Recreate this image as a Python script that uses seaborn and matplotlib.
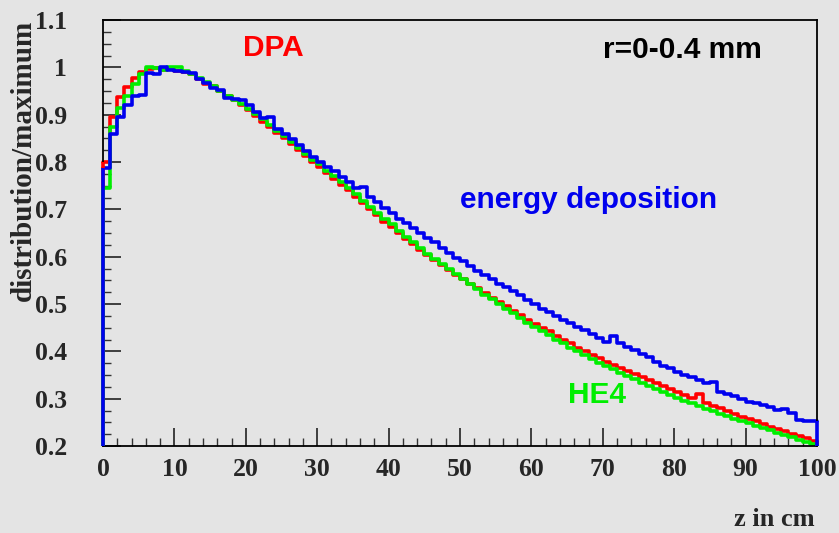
import numpy as np
import pandas as pd
import matplotlib
matplotlib.use("Agg")
import matplotlib.pyplot as plt
from matplotlib.ticker import MultipleLocator
import seaborn as sns

# bin edges: z in cm (1 cm bins, 0..100)
z_edges = list(range(0, 101))

dpa = [0.800, 0.895, 0.937, 0.958, 0.978, 0.990, 0.997, 0.998, 0.995, 0.998,
       0.993, 0.990, 0.985, 0.975, 0.965, 0.960, 0.950, 0.940, 0.930, 0.920,
       0.910, 0.898, 0.885, 0.873, 0.862, 0.850, 0.838, 0.825, 0.812, 0.800,
       0.790, 0.777, 0.765, 0.752, 0.740, 0.726, 0.713, 0.700, 0.687, 0.674,
       0.662, 0.650, 0.638, 0.627, 0.615, 0.604, 0.593, 0.582, 0.571, 0.562,
       0.553, 0.543, 0.533, 0.523, 0.513, 0.504, 0.495, 0.485, 0.476, 0.467,
       0.458, 0.450, 0.442, 0.433, 0.425, 0.417, 0.408, 0.400, 0.392, 0.385,
       0.378, 0.372, 0.365, 0.358, 0.352, 0.345, 0.339, 0.333, 0.326, 0.320,
       0.314, 0.308, 0.302, 0.310, 0.290, 0.285, 0.280, 0.274, 0.268, 0.262,
       0.257, 0.252, 0.247, 0.241, 0.236, 0.231, 0.226, 0.221, 0.216, 0.211]

he4 = [0.745, 0.875, 0.915, 0.940, 0.965, 0.985, 1.000, 0.998, 0.995, 1.000,
       1.000, 0.993, 0.985, 0.978, 0.968, 0.960, 0.950, 0.940, 0.932, 0.923,
       0.913, 0.902, 0.890, 0.878, 0.866, 0.854, 0.842, 0.830, 0.817, 0.805,
       0.795, 0.782, 0.770, 0.757, 0.745, 0.732, 0.718, 0.705, 0.692, 0.680,
       0.668, 0.655, 0.642, 0.630, 0.618, 0.606, 0.595, 0.584, 0.573, 0.563,
       0.553, 0.542, 0.531, 0.520, 0.510, 0.500, 0.490, 0.480, 0.470, 0.460,
       0.452, 0.443, 0.434, 0.425, 0.417, 0.408, 0.400, 0.392, 0.384, 0.376,
       0.369, 0.362, 0.355, 0.348, 0.341, 0.334, 0.327, 0.321, 0.315, 0.308,
       0.302, 0.296, 0.290, 0.284, 0.279, 0.274, 0.268, 0.263, 0.258, 0.253,
       0.248, 0.243, 0.238, 0.233, 0.228, 0.223, 0.218, 0.213, 0.208, 0.204]

edep = [0.787, 0.860, 0.896, 0.920, 0.940, 0.942, 0.987, 0.985, 1.000, 0.995,
        0.993, 0.990, 0.988, 0.975, 0.966, 0.957, 0.953, 0.935, 0.933, 0.930,
        0.920, 0.905, 0.893, 0.895, 0.870, 0.860, 0.848, 0.835, 0.823, 0.810,
        0.800, 0.790, 0.780, 0.768, 0.757, 0.745, 0.748, 0.725, 0.715, 0.703,
        0.692, 0.680, 0.672, 0.660, 0.650, 0.640, 0.630, 0.618, 0.608, 0.598,
        0.590, 0.580, 0.570, 0.562, 0.552, 0.543, 0.535, 0.527, 0.518, 0.508,
        0.500, 0.490, 0.483, 0.475, 0.466, 0.460, 0.452, 0.445, 0.437, 0.428,
        0.420, 0.433, 0.418, 0.410, 0.403, 0.395, 0.387, 0.378, 0.370, 0.365,
        0.357, 0.350, 0.346, 0.340, 0.333, 0.335, 0.315, 0.310, 0.305, 0.300,
        0.294, 0.290, 0.287, 0.283, 0.276, 0.278, 0.270, 0.255, 0.253, 0.253]

series_names = ["DPA", "HE4", "energy deposition"]
series_colors = ["#ff0000", "#00ee00", "#0000ee"]

sns.set_style("ticks")
bg = "#e4e4e4"
fig = plt.figure(figsize=(8.39, 5.33), dpi=100, facecolor=bg)
ax = fig.add_axes([103/839, 1-446/533, 714/839, 426/533])
ax.set_facecolor(bg)

y_lo, y_hi = 0.2, 1.1
lw = 2.6
centers = [(a + b) / 2 for a, b in zip(z_edges[:-1], z_edges[1:])]
for name, vals, col in zip(series_names, [dpa, he4, edep], series_colors):
    df = pd.DataFrame({"z": centers, "w": vals})
    sns.histplot(data=df, x="z", weights="w", bins=z_edges, element="step",
                 fill=False, color=col, linewidth=lw, ax=ax, clip_on=False)
    # histogram outline drops to the baseline at both ends
    ax.vlines([z_edges[0], z_edges[-1]], y_lo, [vals[0], vals[-1]],
              color=col, linewidth=lw, clip_on=False, zorder=3)

ax.set_xlim(z_edges[0], z_edges[-1])
ax.set_ylim(y_lo, y_hi)
ax.xaxis.set_minor_locator(MultipleLocator(2))
ax.yaxis.set_minor_locator(MultipleLocator(0.025))
ax.set_yticks([0.2, 0.3, 0.4, 0.5, 0.6, 0.7, 0.8, 0.9, 1.0, 1.1])
ax.set_yticklabels(["0.2", "0.3", "0.4", "0.5", "0.6", "0.7", "0.8", "0.9", "1", "1.1"])
ax.set_xticks(list(range(0, 101, 10)))
ax.set_xticklabels([str(v) for v in range(0, 101, 10)])

ax.tick_params(which="major", direction="in", length=13, width=1.2, color="#222222",
               top=False, right=False)
ax.tick_params(which="minor", direction="in", length=6, width=1.0, color="#333333",
               top=False, right=False)
ax.tick_params(axis="y", which="major", pad=26)
ax.tick_params(axis="x", which="major", pad=9)
for lab in ax.get_xticklabels() + ax.get_yticklabels():
    lab.set_fontfamily("Liberation Serif")
    lab.set_fontweight("bold")
    lab.set_fontsize(18.5)

for sp in ax.spines.values():
    sp.set_color("black")
    sp.set_linewidth(1.3)
    sp.set_visible(True)

serif = dict(family="Liberation Serif", weight="bold")
ax.set_ylabel("distribution/maximum", fontsize=21, loc="top", **serif)
ax.yaxis.set_label_coords(-0.093, 1.0)
ax.set_xlabel("z in cm", fontsize=19, loc="right", **serif)
ax.xaxis.set_label_coords(0.997, -0.145)

sans = dict(family="Liberation Sans", weight="bold", fontsize=21.5)
ax.text(19.6, 1.041, "DPA", color="#ff0000", ha="left", va="center", **sans)
ax.text(70.0, 1.037, "r=0-0.4 mm", color="black", ha="left", va="center", **sans)
ax.text(50.0, 0.72, "energy deposition", color="#0000ee", ha="left", va="center", **sans)
ax.text(65.1, 0.308, "HE4", color="#00ee00", ha="left", va="center", **sans)

fig.savefig("out.png", dpi=100, facecolor=bg)
